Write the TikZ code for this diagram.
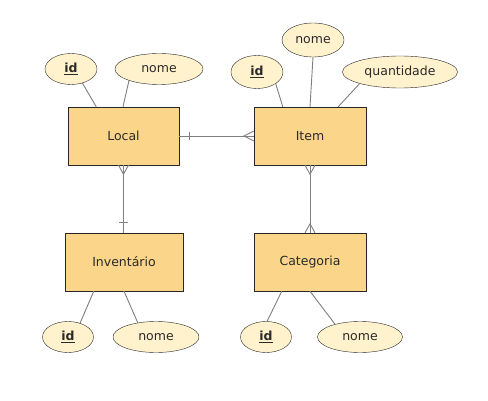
\documentclass[tikz,border=0pt]{standalone}
\usepackage{fontspec}
\setmainfont{DejaVu Sans}
\usetikzlibrary{shapes.geometric,calc}
\definecolor{entfill}{HTML}{FBD58A}
\definecolor{attfill}{HTML}{FFF2CC}
\definecolor{linkgray}{HTML}{808080}
\definecolor{labelgray}{HTML}{2A2A2A}

\begin{document}
\begin{tikzpicture}[x=1pt,y=-1pt,
    entity/.style={shape=rectangle,draw=black!85,fill=entfill,text=labelgray,minimum height=58pt,inner sep=0pt,font=\fontsize{12.5}{15}\selectfont},
    attr/.style={shape=ellipse,draw=black!85,fill=attfill,text=labelgray,minimum height=31pt,inner sep=0pt,font=\fontsize{12.5}{15}\selectfont},
    link/.style={draw=linkgray,line width=0.9pt}]

    \useasboundingbox[fill=white] (0,0) rectangle (488,401);

    % entities
    \node[entity,minimum width=111pt] (Local) at (123.5,136) {Local};
    \node[entity,minimum width=112pt] (Item) at (310,136) {Item};
    \node[entity,minimum width=118pt] (Inv) at (124,262) {Inventário};
    \node[entity,minimum width=112pt] (Cat) at (310,262) {Categoria};

    % attributes
    \node[attr,minimum width=52pt] (LocalId) at (71,69) {\underline{\textbf{id}}};
    \node[attr,minimum width=88pt] (LocalNome) at (159,69) {nome};
    \node[attr,minimum width=52pt,minimum height=33pt] (ItemId) at (257,72) {\underline{\textbf{id}}};
    \node[attr,minimum width=62pt,minimum height=34pt] (ItemNome) at (313,40) {nome};
    \node[attr,minimum width=115pt,minimum height=32pt] (ItemQtd) at (400,72) {quantidade};
    \node[attr,minimum width=51pt] (InvId) at (68,337) {\underline{\textbf{id}}};
    \node[attr,minimum width=86pt] (InvNome) at (156,337) {nome};
    \node[attr,minimum width=51pt] (CatId) at (266,337) {\underline{\textbf{id}}};
    \node[attr,minimum width=85pt] (CatNome) at (360,337) {nome};

    \path[link] (LocalId.309) edge (Local.133.5);
    \path[link] (LocalNome.201) edge (Local.91);
    \path[link] (ItemId.328) edge (Item.133);
    \path[link] (ItemNome.270) edge (Item.90);
    \path[link] (ItemQtd.196) edge (Item.46);
    \path[link] (InvId.49) edge (Inv.224);
    \path[link] (InvNome.142) edge (Inv.270);
    \path[link] (CatId.86) edge (Cat.226);
    \path[link] (CatNome.153) edge (Cat.270);

    % Local -|---< Item
    \draw[link] (Local.east) -- (Item.west);
    \draw[link] ($(Local.east)+(10,-4)$) -- ($(Local.east)+(10,4)$);
    \draw[link] ($(Item.west)+(0,-5)$) -- ($(Item.west)+(-10,0)$) -- ($(Item.west)+(0,5)$);

    % Local >---|- Inventario
    \draw[link] (Local.south) -- (Local.south |- Inv.north);
    \draw[link] ($(Local.south)+(-5,0)$) -- ($(Local.south)+(0,9)$) -- ($(Local.south)+(5,0)$);
    \draw[link] ($(Local.south |- Inv.north)+(-4.5,-10)$) -- ($(Local.south |- Inv.north)+(4.5,-10)$);

    % Item >---< Categoria
    \draw[link] (Item.south) -- (Cat.north);
    \draw[link] ($(Item.south)+(-5,0)$) -- ($(Item.south)+(0,9)$) -- ($(Item.south)+(5,0)$);
    \draw[link] ($(Cat.north)+(-5,0)$) -- ($(Cat.north)+(0,-9)$) -- ($(Cat.north)+(5,0)$);

\end{tikzpicture}
\end{document}
